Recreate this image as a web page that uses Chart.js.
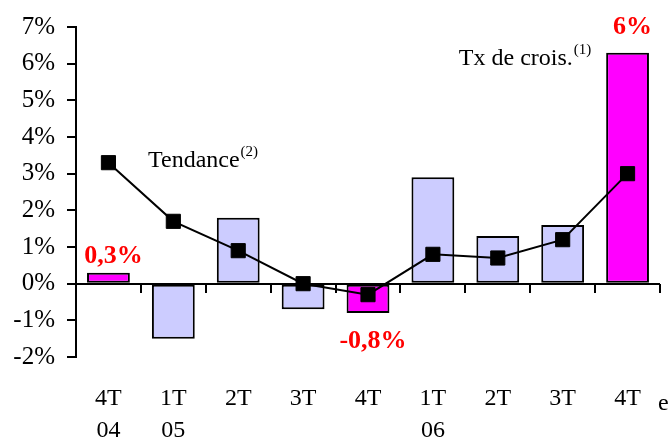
<!DOCTYPE html>
<html>
<head>
<meta charset="utf-8">
<script src="https://cdn.jsdelivr.net/npm/chart.js@4"></script>
<style>
  html, body { margin: 0; padding: 0; background: #fff; }
</style>
</head>
<body>
<canvas id="chart" width="672" height="442"></canvas>
<script>
// ── Data ────────────────────────────────────────────────────────────────────
const quarters   = [['4T', '04'], ['1T', '05'], '2T', '3T', '4T', ['1T', '06'], '2T', '3T', '4T'];
const growth     = [0.3, -1.5, 1.8, -0.7, -0.8, 2.9, 1.3, 1.6, 6.3];   // Tx de crois. (1)
const trend      = [3.3, 1.7, 0.9, 0.0, -0.3, 0.8, 0.7, 1.2, 3.0];     // Tendance (2)
const highlight  = [true, false, false, false, true, false, false, false, true];
const barLabels  = ['0,3%', '', '', '', '-0,8%', '', '', '', '6%'];
const yMin = -2, yMax = 7, yStep = 1;

const SERIF = "'Liberation Serif', 'Times New Roman', serif";

// ── Zero line with downward ticks at category boundaries ────────────────────
const zeroAxis = {
  id: 'zeroAxis',
  beforeDatasetsDraw(chart) {
    const { ctx, chartArea, scales: { x, y } } = chart;
    const y0 = Math.round(y.getPixelForValue(0));
    ctx.save();
    ctx.strokeStyle = '#000';
    ctx.lineWidth = 2;
    ctx.beginPath();
    ctx.moveTo(chartArea.left, y0);
    ctx.lineTo(chartArea.right, y0);
    for (let i = 1; i <= quarters.length; i++) {
      const bx = Math.round(x.getPixelForValue(i - 0.5));
      ctx.moveTo(bx, y0);
      ctx.lineTo(bx, y0 + 9);
    }
    ctx.stroke();
    ctx.restore();
  }
};

// ── Text annotations: series names, highlighted values, trailing "e" ────────
function supText(ctx, text, sup, px, py) {
  ctx.font = '24px ' + SERIF;
  ctx.textAlign = 'left';
  ctx.textBaseline = 'alphabetic';
  ctx.fillText(text, px, py);
  const w = ctx.measureText(text).width;
  ctx.font = '15px ' + SERIF;
  ctx.fillText(sup, px + w + 1, py - 11);
}

const annotations = {
  id: 'annotations',
  afterDatasetsDraw(chart) {
    const { ctx, chartArea, scales: { x, y } } = chart;
    ctx.save();
    ctx.fillStyle = '#000';
    supText(ctx, 'Tendance', '(2)', x.getPixelForValue(0.61), y.getPixelForValue(3.19));
    supText(ctx, 'Tx de crois.', '(1)', x.getPixelForValue(5.4), y.getPixelForValue(5.97));

    // red value labels above / below the highlighted bars (dataset 1 = bars)
    const offsets = { 0: -10, 4: 35, 8: -19 };
    const bars = chart.getDatasetMeta(1).data;
    ctx.font = 'bold 26px ' + SERIF;
    ctx.fillStyle = '#ff0000';
    ctx.textAlign = 'center';
    ctx.textBaseline = 'alphabetic';
    barLabels.forEach((t, i) => {
      if (!t) return;
      const b = bars[i];
      ctx.fillText(t, b.x + 5, b.y + (offsets[i] || 0));
    });

    // trailing "e" after the last quarter
    ctx.fillStyle = '#000';
    ctx.font = '24px ' + SERIF;
    ctx.textAlign = 'left';
    ctx.textBaseline = 'middle';
    ctx.fillText('e', chartArea.right - 2, chartArea.bottom + 26 + 16 + 5);
    ctx.restore();
  }
};

// ── Chart ───────────────────────────────────────────────────────────────────
new Chart(document.getElementById('chart'), {
  type: 'bar',
  data: {
    labels: quarters,
    datasets: [
      {
        type: 'line',
        label: 'Tendance',
        data: trend,
        borderColor: '#000',
        borderWidth: 2,
        backgroundColor: '#000',
        pointStyle: 'rect',
        pointRadius: 10,
        pointBorderWidth: 1,
        pointBackgroundColor: '#000',
        pointBorderColor: '#000',
        tension: 0,
        order: 1
      },
      {
        type: 'bar',
        label: 'Tx de crois.',
        data: growth,
        backgroundColor: highlight.map(h => h ? '#ff00ff' : '#ccccff'),
        borderColor: '#000',
        borderWidth: 2,
        borderSkipped: false,
        barPercentage: 0.66,
        categoryPercentage: 1,
        order: 2
      }
    ]
  },
  options: {
    responsive: false,
    animation: false,
    devicePixelRatio: 1,
    layout: { padding: { top: 26, right: 12, left: 0, bottom: 0 } },
    plugins: { legend: { display: false }, tooltip: { enabled: false } },
    scales: {
      x: {
        grid: { display: false, drawTicks: false },
        border: { display: false },
        ticks: {
          color: '#000',
          padding: 26,
          autoSkip: false,
          maxRotation: 0,
          font: { family: SERIF, size: 24, lineHeight: '32px' }
        },
        afterFit(s) { s.height = 85; }
      },
      y: {
        min: yMin,
        max: yMax,
        grid: { display: true, drawOnChartArea: false, drawTicks: true, tickLength: 9, color: '#000', lineWidth: 2 },
        border: { display: true, color: '#000', width: 2 },
        ticks: {
          stepSize: yStep,
          color: '#000',
          padding: 12,
          font: { family: SERIF, size: 25 },
          callback: v => v + '%'
        },
        afterFit(s) { s.width = 76; }
      }
    }
  },
  plugins: [zeroAxis, annotations]
});
</script>
</body>
</html>
